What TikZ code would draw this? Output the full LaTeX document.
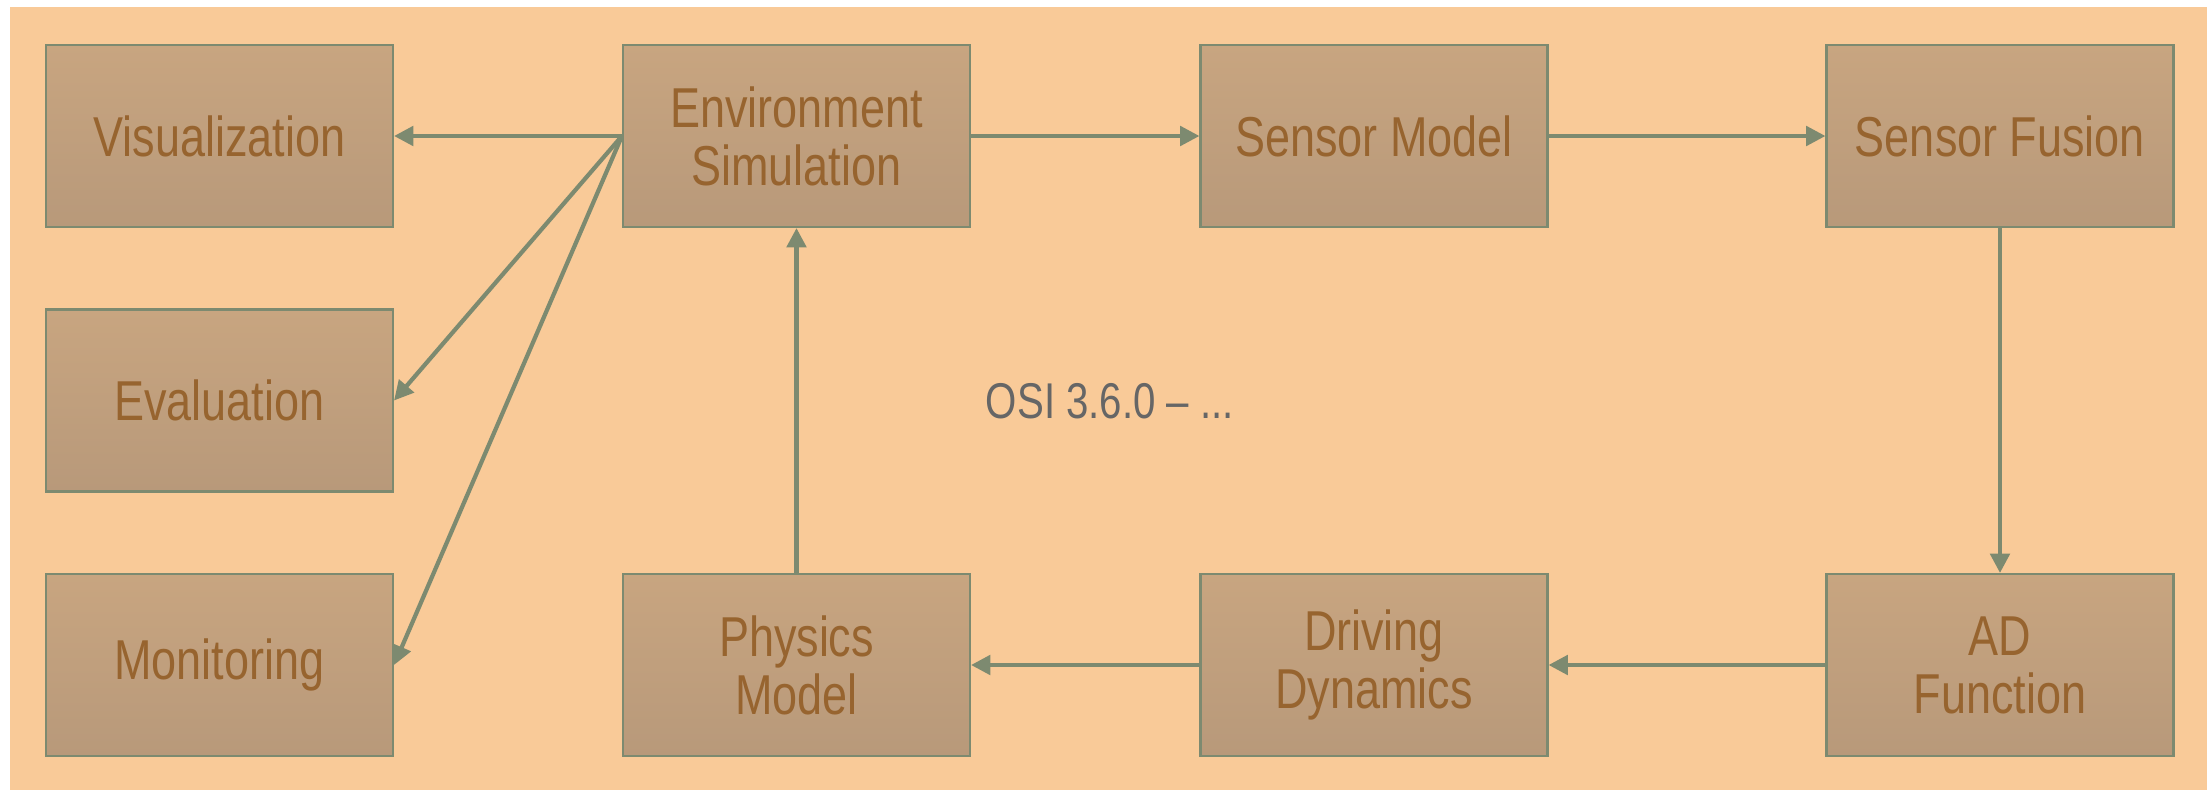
\documentclass[tikz,border=0pt]{standalone}
\usepackage{fontspec}
\setmainfont[FakeStretch=0.8]{Liberation Sans}
\usetikzlibrary{arrows.meta}
\definecolor{bgorange}{HTML}{F9CA98}
\definecolor{boxtop}{HTML}{C8A580}
\definecolor{boxbot}{HTML}{B8997A}
\definecolor{linegreen}{HTML}{7D8A70}
\definecolor{labelbrown}{HTML}{97642F}
\definecolor{osigray}{HTML}{666666}

\begin{document}
\begin{tikzpicture}[
  block/.style={draw=linegreen, line width=0.6pt, top color=boxtop, bottom color=boxbot,
    minimum width=3.47cm, minimum height=1.82cm, inner sep=0pt, align=center,
    text=labelbrown, font=\fontsize{16}{16.5}\selectfont},
  flow/.style={draw=linegreen, line width=1.2pt, -{Triangle[length=5.5pt,width=5.5pt]}}]
  \useasboundingbox (0,0) rectangle (22.07,7.90);
  \fill[bgorange] (0.10,0) rectangle (22.07,7.83);
  \node[block] (vis) at (2.195,6.54) {Visualization};
  \node[block] (eval) at (2.195,3.895) {Evaluation};
  \node[block] (mon) at (2.195,1.25) {Monitoring};
  \node[block] (env) at (7.965,6.54) {Environment\\Simulation};
  \node[block] (sens) at (13.74,6.54) {Sensor Model};
  \node[block] (fus) at (20.00,6.54) {Sensor Fusion};
  \node[block] (phys) at (7.965,1.25) {Physics\\Model};
  \node[block] (drive) at (13.74,1.25) {Driving\\Dynamics};
  \node[block] (ad) at (20.00,1.25) {AD\\Function};
  \node[text=osigray, font=\fontsize{14.3}{17}\selectfont] (osi) at (11.10,3.89) {OSI 3.6.0 – ...};
  \draw[flow] (env.west) -- (vis.east);
  \draw[flow] (env.west) -- (eval.east);
  \draw[flow] (env.west) -- (mon.east);
  \draw[flow] (env.east) -- (sens.west);
  \draw[flow] (sens.east) -- (fus.west);
  \draw[flow] (fus.south) -- (ad.north);
  \draw[flow] (ad.west) -- (drive.east);
  \draw[flow] (drive.west) -- (phys.east);
  \draw[flow] (phys.north) -- (env.south);
\end{tikzpicture}
\end{document}
